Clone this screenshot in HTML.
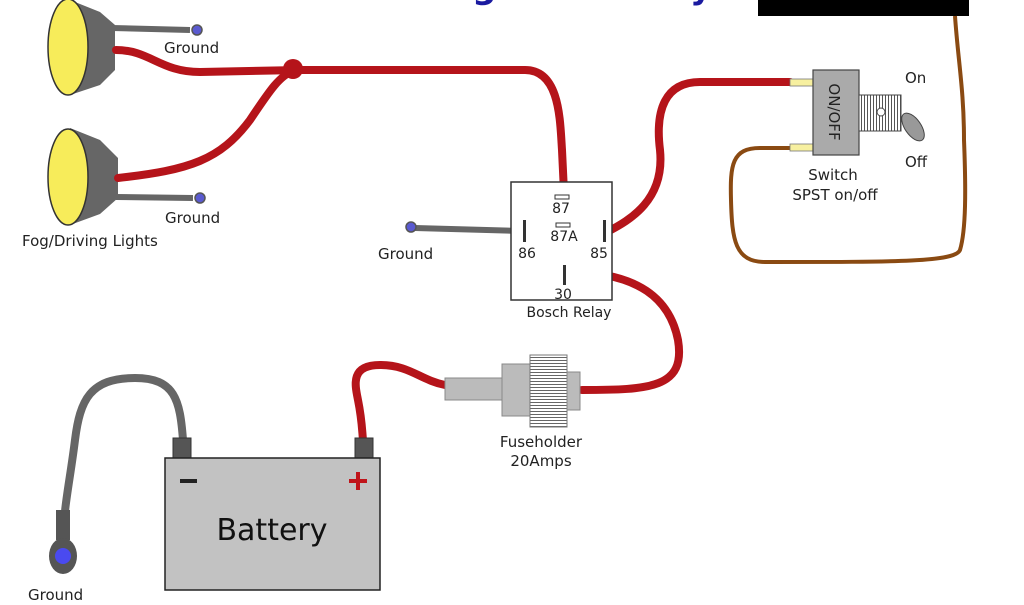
<!DOCTYPE html>
<html><head><meta charset="utf-8"><style>
body{margin:0;background:#fff;width:1024px;height:600px;overflow:hidden}
svg text{font-family:"DejaVu Sans","Liberation Sans",sans-serif;fill:#222}
</style></head><body>
<svg width="1024" height="600" viewBox="0 0 1024 600" xmlns="http://www.w3.org/2000/svg">
<defs>
<pattern id="rib" width="3" height="4" patternUnits="userSpaceOnUse"><rect width="3" height="4" fill="#fff"/><rect width="1" height="4" fill="#555"/></pattern>
<pattern id="ribh" width="4" height="3" patternUnits="userSpaceOnUse"><rect width="4" height="3" fill="#fff"/><rect width="4" height="1" fill="#666"/></pattern>
</defs>
<!-- title -->
<text x="350" y="-2" font-family="Liberation Serif,serif" font-size="34" font-weight="bold" style="fill:#1a1aa0">Headlight Switch</text>
<text x="690" y="-2" font-family="Liberation Serif,serif" font-size="34" font-weight="bold" style="fill:#1a1aa0">y</text>
<rect x="758" y="0" width="211" height="16" fill="#000"/>
<!-- brown wire -->
<path d="M955,16 C958,60 964,90 964,140 C966,190 966,230 960,250 C955,262 900,262 765,262 C735,262 732,240 731,200 C730,165 732,148 760,148 L792,148" fill="none" stroke="#8a4a12" stroke-width="4"/>
<!-- lamps -->
<g>
<path d="M70,0 L100,12 L115,25 L115,70 L100,85 L70,95 Z" fill="#666"/>
<ellipse cx="68" cy="47" rx="20" ry="48" fill="#f7ec5a" stroke="#333" stroke-width="1.5"/>
<path d="M70,128 L100,140 L118,158 L118,198 L100,214 L70,225 Z" fill="#666"/>
<ellipse cx="68" cy="177" rx="20" ry="48" fill="#f7ec5a" stroke="#333" stroke-width="1.5"/>
</g>
<!-- gray ground wires -->
<path d="M112,28 L190,30" stroke="#666" stroke-width="6" fill="none"/>
<circle cx="197" cy="30" r="5" fill="#5a5ad0" stroke="#555" stroke-width="1.5"/>
<path d="M116,197 L193,198" stroke="#666" stroke-width="6" fill="none"/>
<circle cx="200" cy="198" r="5" fill="#5a5ad0" stroke="#555" stroke-width="1.5"/>
<path d="M415,228 L522,231" stroke="#666" stroke-width="6" fill="none"/>
<circle cx="411" cy="227" r="5" fill="#5a5ad0" stroke="#555" stroke-width="1.5"/>
<!-- red wires -->
<g fill="none" stroke="#b5141a" stroke-width="8" stroke-linecap="round">
<path d="M116,50 C150,50 160,72 200,72 L300,70 L525,70 C560,70 560,120 562,150 L564,192"/>
<path d="M118,178 C190,170 220,160 250,120 C270,90 280,75 295,70"/>
<path d="M607,232 C630,220 665,200 660,150 C655,110 665,82 700,82 L790,82"/>
<path d="M567,272 C640,272 670,300 678,340 C686,388 650,390 582,390"/>
<path d="M445,385 C420,380 410,365 380,365 C350,365 355,385 358,400 C362,420 362,430 363,440"/>
</g>
<circle cx="293" cy="69" r="10" fill="#b5141a"/>
<!-- relay -->
<rect x="511" y="182" width="101" height="118" fill="#fff" stroke="#333" stroke-width="1.5"/>
<rect x="555" y="195" width="14" height="4" fill="#fff" stroke="#333"/>
<rect x="556" y="223" width="14" height="4" fill="#fff" stroke="#333"/>
<rect x="523" y="220" width="3" height="22" fill="#333"/>
<rect x="603" y="220" width="3" height="22" fill="#333"/>
<rect x="563" y="265" width="3" height="20" fill="#333"/>
<g font-size="14" text-anchor="middle">
<text x="561" y="213">87</text><text x="564" y="241">87A</text>
<text x="527" y="258">86</text><text x="599" y="258">85</text>
<text x="563" y="299">30</text>
<text x="569" y="317">Bosch Relay</text>
</g>
<!-- switch -->
<rect x="790" y="79" width="23" height="7" fill="#f7f0a0" stroke="#777" stroke-width="0.8"/>
<rect x="790" y="144" width="23" height="7" fill="#f7f0a0" stroke="#777" stroke-width="0.8"/>
<rect x="813" y="70" width="46" height="85" fill="#aaa" stroke="#444" stroke-width="1.2"/>
<text transform="translate(829,112) rotate(90)" font-size="15" text-anchor="middle">ON/OFF</text>
<rect x="859" y="95" width="42" height="36" fill="url(#rib)" stroke="#444"/>
<circle cx="881" cy="112" r="4" fill="#fff" stroke="#444"/>
<ellipse cx="913" cy="127" rx="8" ry="16" transform="rotate(-35 913 127)" fill="#999" stroke="#444"/>
<g font-size="15"><text x="905" y="83">On</text><text x="905" y="167">Off</text>
<text x="833" y="180" text-anchor="middle">Switch</text><text x="835" y="200" text-anchor="middle">SPST on/off</text></g>
<!-- labels -->
<g font-size="15">
<text x="164" y="53">Ground</text><text x="165" y="223">Ground</text>
<text x="22" y="246">Fog/Driving Lights</text>
<text x="378" y="259">Ground</text>
<text x="541" y="447" text-anchor="middle">Fuseholder</text>
<text x="541" y="466" text-anchor="middle">20Amps</text>
<text x="28" y="600">Ground</text>
</g>
<!-- fuseholder -->
<rect x="445" y="378" width="60" height="22" fill="#bbb" stroke="#888"/>
<rect x="502" y="364" width="30" height="52" fill="#bbb" stroke="#888"/>
<rect x="530" y="355" width="37" height="72" fill="url(#ribh)" stroke="#777"/>
<rect x="567" y="372" width="13" height="38" fill="#bbb" stroke="#888"/>
<!-- battery ground wire -->
<path d="M183,440 C180,400 175,378 135,378 C90,378 80,400 75,440 C70,480 65,500 63,535" fill="none" stroke="#666" stroke-width="8"/>
<rect x="56" y="510" width="14" height="30" fill="#555"/>
<ellipse cx="63" cy="556" rx="14" ry="18" fill="#555"/>
<circle cx="63" cy="556" r="8" fill="#4a4af0"/>
<!-- battery -->
<rect x="173" y="438" width="18" height="20" fill="#555" stroke="#333"/>
<rect x="355" y="438" width="18" height="20" fill="#555" stroke="#333"/>
<rect x="165" y="458" width="215" height="132" fill="#c2c2c2" stroke="#222" stroke-width="1.5"/>
<rect x="180" y="479" width="17" height="4" fill="#222"/>
<path d="M358,472 V490 M349,481 H367" stroke="#c0141a" stroke-width="4"/>
<text x="272" y="540" font-size="30" text-anchor="middle" style="fill:#111">Battery</text>
</svg>
</body></html>
